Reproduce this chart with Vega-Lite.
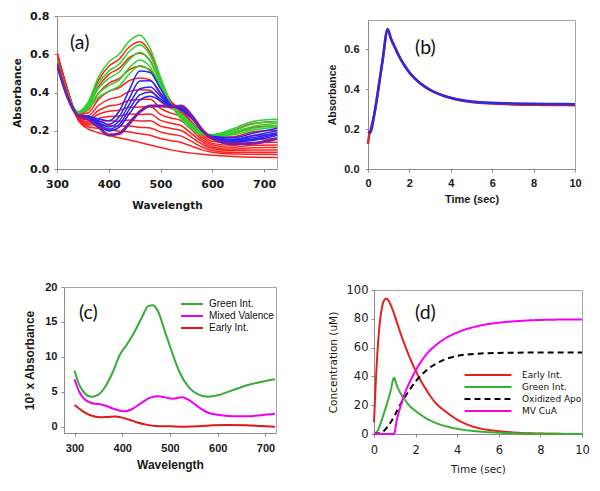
{
"$schema": "https://vega.github.io/schema/vega-lite/v6.json",
"background": "white",
"padding": {"left": 12, "top": 9, "right": 5, "bottom": 5},
"config": {
  "view": {"stroke": "#a6a6a6", "strokeWidth": 1},
  "axis": {"grid": false, "domainColor": "#8c8c8c", "tickColor": "#8c8c8c", "tickSize": 3, "labelColor": "#1a1a1a", "titleColor": "#1a1a1a", "labelFlush": false, "labelOverlap": false},
  "title": {"anchor": "start", "frame": "group", "font": "Lato", "fontSize": 19.5, "fontWeight": "normal", "color": "#111111", "offset": 0, "baseline": "top"}
},
"bounds": "flush",
"spacing": 271,
"resolve": {"scale": {"color": "independent", "strokeDash": "independent"}},
"vconcat": [
 {"bounds": "flush", "spacing": 91,
  "resolve": {"scale": {"color": "independent", "strokeDash": "independent"}},
  "hconcat": [
  {
   "width": 220, "height": 153,
   "title": {"text": "(a)", "dx": 13, "dy": 47},
   "data": {"values": [
{"s":"r1","g":"e","w":300,"a":0.61},{"s":"r1","g":"e","w":320,"a":0.42},{"s":"r1","g":"e","w":340,"a":0.26},{"s":"r1","g":"e","w":360,"a":0.21},{"s":"r1","g":"e","w":380,"a":0.19},{"s":"r1","g":"e","w":400,"a":0.175},{"s":"r1","g":"e","w":420,"a":0.163},{"s":"r1","g":"e","w":440,"a":0.152},{"s":"r1","g":"e","w":460,"a":0.139},{"s":"r1","g":"e","w":480,"a":0.125},{"s":"r1","g":"e","w":500,"a":0.112},{"s":"r1","g":"e","w":520,"a":0.1},{"s":"r1","g":"e","w":540,"a":0.09},{"s":"r1","g":"e","w":560,"a":0.083},{"s":"r1","g":"e","w":580,"a":0.077},{"s":"r1","g":"e","w":600,"a":0.072},{"s":"r1","g":"e","w":640,"a":0.066},{"s":"r1","g":"e","w":680,"a":0.062},{"s":"r1","g":"e","w":725,"a":0.06},
{"s":"r2","g":"e","w":300,"a":0.607},{"s":"r2","g":"e","w":320,"a":0.418},{"s":"r2","g":"e","w":340,"a":0.263},{"s":"r2","g":"e","w":360,"a":0.221},{"s":"r2","g":"e","w":380,"a":0.213},{"s":"r2","g":"e","w":400,"a":0.206},{"s":"r2","g":"e","w":420,"a":0.198},{"s":"r2","g":"e","w":440,"a":0.193},{"s":"r2","g":"e","w":460,"a":0.184},{"s":"r2","g":"e","w":480,"a":0.177},{"s":"r2","g":"e","w":500,"a":0.159},{"s":"r2","g":"e","w":520,"a":0.148},{"s":"r2","g":"e","w":540,"a":0.139},{"s":"r2","g":"e","w":560,"a":0.119},{"s":"r2","g":"e","w":580,"a":0.1},{"s":"r2","g":"e","w":600,"a":0.087},{"s":"r2","g":"e","w":640,"a":0.078},{"s":"r2","g":"e","w":680,"a":0.077},{"s":"r2","g":"e","w":725,"a":0.076},
{"s":"r3","g":"e","w":300,"a":0.604},{"s":"r3","g":"e","w":320,"a":0.417},{"s":"r3","g":"e","w":340,"a":0.266},{"s":"r3","g":"e","w":360,"a":0.23},{"s":"r3","g":"e","w":380,"a":0.231},{"s":"r3","g":"e","w":400,"a":0.229},{"s":"r3","g":"e","w":420,"a":0.224},{"s":"r3","g":"e","w":440,"a":0.225},{"s":"r3","g":"e","w":460,"a":0.218},{"s":"r3","g":"e","w":480,"a":0.215},{"s":"r3","g":"e","w":500,"a":0.193},{"s":"r3","g":"e","w":520,"a":0.182},{"s":"r3","g":"e","w":540,"a":0.172},{"s":"r3","g":"e","w":560,"a":0.144},{"s":"r3","g":"e","w":580,"a":0.115},{"s":"r3","g":"e","w":600,"a":0.097},{"s":"r3","g":"e","w":640,"a":0.086},{"s":"r3","g":"e","w":680,"a":0.088},{"s":"r3","g":"e","w":725,"a":0.088},
{"s":"r4","g":"e","w":300,"a":0.602},{"s":"r4","g":"e","w":320,"a":0.416},{"s":"r4","g":"e","w":340,"a":0.268},{"s":"r4","g":"e","w":360,"a":0.238},{"s":"r4","g":"e","w":380,"a":0.248},{"s":"r4","g":"e","w":400,"a":0.252},{"s":"r4","g":"e","w":420,"a":0.25},{"s":"r4","g":"e","w":440,"a":0.256},{"s":"r4","g":"e","w":460,"a":0.251},{"s":"r4","g":"e","w":480,"a":0.252},{"s":"r4","g":"e","w":500,"a":0.224},{"s":"r4","g":"e","w":520,"a":0.212},{"s":"r4","g":"e","w":540,"a":0.201},{"s":"r4","g":"e","w":560,"a":0.166},{"s":"r4","g":"e","w":580,"a":0.13},{"s":"r4","g":"e","w":600,"a":0.107},{"s":"r4","g":"e","w":640,"a":0.095},{"s":"r4","g":"e","w":680,"a":0.1},{"s":"r4","g":"e","w":725,"a":0.1},
{"s":"r5","g":"e","w":300,"a":0.6},{"s":"r5","g":"e","w":320,"a":0.415},{"s":"r5","g":"e","w":340,"a":0.27},{"s":"r5","g":"e","w":360,"a":0.246},{"s":"r5","g":"e","w":380,"a":0.265},{"s":"r5","g":"e","w":400,"a":0.275},{"s":"r5","g":"e","w":420,"a":0.277},{"s":"r5","g":"e","w":440,"a":0.287},{"s":"r5","g":"e","w":460,"a":0.285},{"s":"r5","g":"e","w":480,"a":0.287},{"s":"r5","g":"e","w":500,"a":0.254},{"s":"r5","g":"e","w":520,"a":0.239},{"s":"r5","g":"e","w":540,"a":0.226},{"s":"r5","g":"e","w":560,"a":0.185},{"s":"r5","g":"e","w":580,"a":0.143},{"s":"r5","g":"e","w":600,"a":0.115},{"s":"r5","g":"e","w":640,"a":0.103},{"s":"r5","g":"e","w":680,"a":0.111},{"s":"r5","g":"e","w":725,"a":0.112},
{"s":"r6","g":"e","w":300,"a":0.597},{"s":"r6","g":"e","w":320,"a":0.413},{"s":"r6","g":"e","w":340,"a":0.273},{"s":"r6","g":"e","w":360,"a":0.256},{"s":"r6","g":"e","w":380,"a":0.286},{"s":"r6","g":"e","w":400,"a":0.302},{"s":"r6","g":"e","w":420,"a":0.307},{"s":"r6","g":"e","w":440,"a":0.323},{"s":"r6","g":"e","w":460,"a":0.324},{"s":"r6","g":"e","w":480,"a":0.327},{"s":"r6","g":"e","w":500,"a":0.286},{"s":"r6","g":"e","w":520,"a":0.267},{"s":"r6","g":"e","w":540,"a":0.252},{"s":"r6","g":"e","w":560,"a":0.205},{"s":"r6","g":"e","w":580,"a":0.155},{"s":"r6","g":"e","w":600,"a":0.126},{"s":"r6","g":"e","w":640,"a":0.114},{"s":"r6","g":"e","w":680,"a":0.124},{"s":"r6","g":"e","w":725,"a":0.126},
{"s":"r7","g":"e","w":300,"a":0.594},{"s":"r7","g":"e","w":320,"a":0.412},{"s":"r7","g":"e","w":340,"a":0.276},{"s":"r7","g":"e","w":360,"a":0.266},{"s":"r7","g":"e","w":380,"a":0.306},{"s":"r7","g":"e","w":400,"a":0.329},{"s":"r7","g":"e","w":420,"a":0.338},{"s":"r7","g":"e","w":440,"a":0.359},{"s":"r7","g":"e","w":460,"a":0.363},{"s":"r7","g":"e","w":480,"a":0.365},{"s":"r7","g":"e","w":500,"a":0.317},{"s":"r7","g":"e","w":520,"a":0.292},{"s":"r7","g":"e","w":540,"a":0.273},{"s":"r7","g":"e","w":560,"a":0.22},{"s":"r7","g":"e","w":580,"a":0.166},{"s":"r7","g":"e","w":600,"a":0.134},{"s":"r7","g":"e","w":640,"a":0.124},{"s":"r7","g":"e","w":680,"a":0.137},{"s":"r7","g":"e","w":725,"a":0.14},
{"s":"r8","g":"e","w":300,"a":0.59},{"s":"r8","g":"e","w":320,"a":0.41},{"s":"r8","g":"e","w":340,"a":0.28},{"s":"r8","g":"e","w":360,"a":0.279},{"s":"r8","g":"e","w":380,"a":0.332},{"s":"r8","g":"e","w":400,"a":0.364},{"s":"r8","g":"e","w":420,"a":0.377},{"s":"r8","g":"e","w":440,"a":0.406},{"s":"r8","g":"e","w":460,"a":0.414},{"s":"r8","g":"e","w":480,"a":0.412},{"s":"r8","g":"e","w":500,"a":0.352},{"s":"r8","g":"e","w":520,"a":0.318},{"s":"r8","g":"e","w":540,"a":0.293},{"s":"r8","g":"e","w":560,"a":0.235},{"s":"r8","g":"e","w":580,"a":0.177},{"s":"r8","g":"e","w":600,"a":0.145},{"s":"r8","g":"e","w":640,"a":0.137},{"s":"r8","g":"e","w":680,"a":0.154},{"s":"r8","g":"e","w":725,"a":0.158},
{"s":"r9","g":"e","w":300,"a":0.586},{"s":"r9","g":"e","w":320,"a":0.408},{"s":"r9","g":"e","w":340,"a":0.284},{"s":"r9","g":"e","w":360,"a":0.294},{"s":"r9","g":"e","w":380,"a":0.364},{"s":"r9","g":"e","w":400,"a":0.406},{"s":"r9","g":"e","w":420,"a":0.425},{"s":"r9","g":"e","w":440,"a":0.463},{"s":"r9","g":"e","w":460,"a":0.476},{"s":"r9","g":"e","w":480,"a":0.466},{"s":"r9","g":"e","w":500,"a":0.391},{"s":"r9","g":"e","w":520,"a":0.34},{"s":"r9","g":"e","w":540,"a":0.307},{"s":"r9","g":"e","w":560,"a":0.245},{"s":"r9","g":"e","w":580,"a":0.187},{"s":"r9","g":"e","w":600,"a":0.156},{"s":"r9","g":"e","w":640,"a":0.152},{"s":"r9","g":"e","w":680,"a":0.175},{"s":"r9","g":"e","w":725,"a":0.18},
{"s":"r10","g":"e","w":300,"a":0.582},{"s":"r10","g":"e","w":320,"a":0.406},{"s":"r10","g":"e","w":340,"a":0.288},{"s":"r10","g":"e","w":360,"a":0.309},{"s":"r10","g":"e","w":380,"a":0.396},{"s":"r10","g":"e","w":400,"a":0.448},{"s":"r10","g":"e","w":420,"a":0.473},{"s":"r10","g":"e","w":440,"a":0.52},{"s":"r10","g":"e","w":460,"a":0.537},{"s":"r10","g":"e","w":480,"a":0.517},{"s":"r10","g":"e","w":500,"a":0.422},{"s":"r10","g":"e","w":520,"a":0.352},{"s":"r10","g":"e","w":540,"a":0.309},{"s":"r10","g":"e","w":560,"a":0.247},{"s":"r10","g":"e","w":580,"a":0.191},{"s":"r10","g":"e","w":600,"a":0.165},{"s":"r10","g":"e","w":640,"a":0.168},{"s":"r10","g":"e","w":680,"a":0.195},{"s":"r10","g":"e","w":725,"a":0.202},
{"s":"r11","g":"e","w":300,"a":0.577},{"s":"r11","g":"e","w":320,"a":0.403},{"s":"r11","g":"e","w":340,"a":0.293},{"s":"r11","g":"e","w":360,"a":0.326},{"s":"r11","g":"e","w":380,"a":0.431},{"s":"r11","g":"e","w":400,"a":0.495},{"s":"r11","g":"e","w":420,"a":0.526},{"s":"r11","g":"e","w":440,"a":0.582},{"s":"r11","g":"e","w":460,"a":0.605},{"s":"r11","g":"e","w":480,"a":0.566},{"s":"r11","g":"e","w":500,"a":0.451},{"s":"r11","g":"e","w":520,"a":0.355},{"s":"r11","g":"e","w":540,"a":0.298},{"s":"r11","g":"e","w":560,"a":0.238},{"s":"r11","g":"e","w":580,"a":0.19},{"s":"r11","g":"e","w":600,"a":0.173},{"s":"r11","g":"e","w":640,"a":0.186},{"s":"r11","g":"e","w":680,"a":0.218},{"s":"r11","g":"e","w":725,"a":0.226},
{"s":"r12","g":"e","w":300,"a":0.572},{"s":"r12","g":"e","w":320,"a":0.401},{"s":"r12","g":"e","w":340,"a":0.298},{"s":"r12","g":"e","w":360,"a":0.342},{"s":"r12","g":"e","w":380,"a":0.463},{"s":"r12","g":"e","w":400,"a":0.537},{"s":"r12","g":"e","w":420,"a":0.574},{"s":"r12","g":"e","w":440,"a":0.639},{"s":"r12","g":"e","w":460,"a":0.666},{"s":"r12","g":"e","w":480,"a":0.609},{"s":"r12","g":"e","w":500,"a":0.472},{"s":"r12","g":"e","w":520,"a":0.349},{"s":"r12","g":"e","w":540,"a":0.277},{"s":"r12","g":"e","w":560,"a":0.222},{"s":"r12","g":"e","w":580,"a":0.185},{"s":"r12","g":"e","w":600,"a":0.179},{"s":"r12","g":"e","w":640,"a":0.201},{"s":"r12","g":"e","w":680,"a":0.239},{"s":"r12","g":"e","w":725,"a":0.248},
{"s":"g1","g":"g","w":300,"a":0.57},{"s":"g1","g":"g","w":320,"a":0.4},{"s":"g1","g":"g","w":340,"a":0.3},{"s":"g1","g":"g","w":360,"a":0.35},{"s":"g1","g":"g","w":380,"a":0.48},{"s":"g1","g":"g","w":400,"a":0.56},{"s":"g1","g":"g","w":420,"a":0.6},{"s":"g1","g":"g","w":440,"a":0.67},{"s":"g1","g":"g","w":460,"a":0.7},{"s":"g1","g":"g","w":480,"a":0.63},{"s":"g1","g":"g","w":500,"a":0.48},{"s":"g1","g":"g","w":520,"a":0.34},{"s":"g1","g":"g","w":540,"a":0.26},{"s":"g1","g":"g","w":560,"a":0.21},{"s":"g1","g":"g","w":580,"a":0.18},{"s":"g1","g":"g","w":600,"a":0.18},{"s":"g1","g":"g","w":640,"a":0.21},{"s":"g1","g":"g","w":680,"a":0.25},{"s":"g1","g":"g","w":725,"a":0.26},
{"s":"g2","g":"g","w":300,"a":0.568},{"s":"g2","g":"g","w":320,"a":0.398},{"s":"g2","g":"g","w":340,"a":0.298},{"s":"g2","g":"g","w":360,"a":0.339},{"s":"g2","g":"g","w":380,"a":0.448},{"s":"g2","g":"g","w":400,"a":0.512},{"s":"g2","g":"g","w":420,"a":0.548},{"s":"g2","g":"g","w":440,"a":0.616},{"s":"g2","g":"g","w":460,"a":0.65},{"s":"g2","g":"g","w":480,"a":0.593},{"s":"g2","g":"g","w":500,"a":0.461},{"s":"g2","g":"g","w":520,"a":0.338},{"s":"g2","g":"g","w":540,"a":0.269},{"s":"g2","g":"g","w":560,"a":0.219},{"s":"g2","g":"g","w":580,"a":0.183},{"s":"g2","g":"g","w":600,"a":0.178},{"s":"g2","g":"g","w":640,"a":0.2},{"s":"g2","g":"g","w":680,"a":0.236},{"s":"g2","g":"g","w":725,"a":0.248},
{"s":"g3","g":"g","w":300,"a":0.566},{"s":"g3","g":"g","w":320,"a":0.396},{"s":"g3","g":"g","w":340,"a":0.296},{"s":"g3","g":"g","w":360,"a":0.33},{"s":"g3","g":"g","w":380,"a":0.422},{"s":"g3","g":"g","w":400,"a":0.474},{"s":"g3","g":"g","w":420,"a":0.507},{"s":"g3","g":"g","w":440,"a":0.573},{"s":"g3","g":"g","w":460,"a":0.61},{"s":"g3","g":"g","w":480,"a":0.563},{"s":"g3","g":"g","w":500,"a":0.446},{"s":"g3","g":"g","w":520,"a":0.337},{"s":"g3","g":"g","w":540,"a":0.276},{"s":"g3","g":"g","w":560,"a":0.226},{"s":"g3","g":"g","w":580,"a":0.186},{"s":"g3","g":"g","w":600,"a":0.176},{"s":"g3","g":"g","w":640,"a":0.192},{"s":"g3","g":"g","w":680,"a":0.224},{"s":"g3","g":"g","w":725,"a":0.238},
{"s":"g4","g":"g","w":300,"a":0.564},{"s":"g4","g":"g","w":320,"a":0.394},{"s":"g4","g":"g","w":340,"a":0.294},{"s":"g4","g":"g","w":360,"a":0.321},{"s":"g4","g":"g","w":380,"a":0.396},{"s":"g4","g":"g","w":400,"a":0.436},{"s":"g4","g":"g","w":420,"a":0.465},{"s":"g4","g":"g","w":440,"a":0.53},{"s":"g4","g":"g","w":460,"a":0.57},{"s":"g4","g":"g","w":480,"a":0.533},{"s":"g4","g":"g","w":500,"a":0.431},{"s":"g4","g":"g","w":520,"a":0.335},{"s":"g4","g":"g","w":540,"a":0.283},{"s":"g4","g":"g","w":560,"a":0.233},{"s":"g4","g":"g","w":580,"a":0.188},{"s":"g4","g":"g","w":600,"a":0.174},{"s":"g4","g":"g","w":640,"a":0.185},{"s":"g4","g":"g","w":680,"a":0.213},{"s":"g4","g":"g","w":725,"a":0.228},
{"s":"g5","g":"g","w":300,"a":0.562},{"s":"g5","g":"g","w":320,"a":0.392},{"s":"g5","g":"g","w":340,"a":0.292},{"s":"g5","g":"g","w":360,"a":0.314},{"s":"g5","g":"g","w":380,"a":0.376},{"s":"g5","g":"g","w":400,"a":0.407},{"s":"g5","g":"g","w":420,"a":0.434},{"s":"g5","g":"g","w":440,"a":0.498},{"s":"g5","g":"g","w":460,"a":0.54},{"s":"g5","g":"g","w":480,"a":0.51},{"s":"g5","g":"g","w":500,"a":0.42},{"s":"g5","g":"g","w":520,"a":0.334},{"s":"g5","g":"g","w":540,"a":0.288},{"s":"g5","g":"g","w":560,"a":0.238},{"s":"g5","g":"g","w":580,"a":0.19},{"s":"g5","g":"g","w":600,"a":0.172},{"s":"g5","g":"g","w":640,"a":0.179},{"s":"g5","g":"g","w":680,"a":0.204},{"s":"g5","g":"g","w":725,"a":0.22},
{"s":"b1","g":"d","w":300,"a":0.55},{"s":"b1","g":"d","w":320,"a":0.38},{"s":"b1","g":"d","w":340,"a":0.28},{"s":"b1","g":"d","w":360,"a":0.276},{"s":"b1","g":"d","w":380,"a":0.262},{"s":"b1","g":"d","w":400,"a":0.252},{"s":"b1","g":"d","w":420,"a":0.302},{"s":"b1","g":"d","w":440,"a":0.415},{"s":"b1","g":"d","w":460,"a":0.512},{"s":"b1","g":"d","w":480,"a":0.505},{"s":"b1","g":"d","w":500,"a":0.42},{"s":"b1","g":"d","w":520,"a":0.336},{"s":"b1","g":"d","w":540,"a":0.309},{"s":"b1","g":"d","w":560,"a":0.264},{"s":"b1","g":"d","w":580,"a":0.2},{"s":"b1","g":"d","w":600,"a":0.171},{"s":"b1","g":"d","w":640,"a":0.164},{"s":"b1","g":"d","w":680,"a":0.188},{"s":"b1","g":"d","w":725,"a":0.213},
{"s":"b2","g":"d","w":300,"a":0.55},{"s":"b2","g":"d","w":320,"a":0.38},{"s":"b2","g":"d","w":340,"a":0.28},{"s":"b2","g":"d","w":360,"a":0.272},{"s":"b2","g":"d","w":380,"a":0.252},{"s":"b2","g":"d","w":400,"a":0.234},{"s":"b2","g":"d","w":420,"a":0.273},{"s":"b2","g":"d","w":440,"a":0.372},{"s":"b2","g":"d","w":460,"a":0.46},{"s":"b2","g":"d","w":480,"a":0.462},{"s":"b2","g":"d","w":500,"a":0.398},{"s":"b2","g":"d","w":520,"a":0.333},{"s":"b2","g":"d","w":540,"a":0.314},{"s":"b2","g":"d","w":560,"a":0.268},{"s":"b2","g":"d","w":580,"a":0.201},{"s":"b2","g":"d","w":600,"a":0.168},{"s":"b2","g":"d","w":640,"a":0.156},{"s":"b2","g":"d","w":680,"a":0.175},{"s":"b2","g":"d","w":725,"a":0.2},
{"s":"b3","g":"d","w":300,"a":0.55},{"s":"b3","g":"d","w":320,"a":0.38},{"s":"b3","g":"d","w":340,"a":0.28},{"s":"b3","g":"d","w":360,"a":0.269},{"s":"b3","g":"d","w":380,"a":0.244},{"s":"b3","g":"d","w":400,"a":0.22},{"s":"b3","g":"d","w":420,"a":0.251},{"s":"b3","g":"d","w":440,"a":0.339},{"s":"b3","g":"d","w":460,"a":0.42},{"s":"b3","g":"d","w":480,"a":0.429},{"s":"b3","g":"d","w":500,"a":0.381},{"s":"b3","g":"d","w":520,"a":0.331},{"s":"b3","g":"d","w":540,"a":0.318},{"s":"b3","g":"d","w":560,"a":0.271},{"s":"b3","g":"d","w":580,"a":0.202},{"s":"b3","g":"d","w":600,"a":0.166},{"s":"b3","g":"d","w":640,"a":0.15},{"s":"b3","g":"d","w":680,"a":0.165},{"s":"b3","g":"d","w":725,"a":0.19},
{"s":"b4","g":"d","w":300,"a":0.55},{"s":"b4","g":"d","w":320,"a":0.38},{"s":"b4","g":"d","w":340,"a":0.28},{"s":"b4","g":"d","w":360,"a":0.267},{"s":"b4","g":"d","w":380,"a":0.238},{"s":"b4","g":"d","w":400,"a":0.209},{"s":"b4","g":"d","w":420,"a":0.233},{"s":"b4","g":"d","w":440,"a":0.313},{"s":"b4","g":"d","w":460,"a":0.388},{"s":"b4","g":"d","w":480,"a":0.403},{"s":"b4","g":"d","w":500,"a":0.367},{"s":"b4","g":"d","w":520,"a":0.329},{"s":"b4","g":"d","w":540,"a":0.321},{"s":"b4","g":"d","w":560,"a":0.273},{"s":"b4","g":"d","w":580,"a":0.203},{"s":"b4","g":"d","w":600,"a":0.164},{"s":"b4","g":"d","w":640,"a":0.145},{"s":"b4","g":"d","w":680,"a":0.157},{"s":"b4","g":"d","w":725,"a":0.182},
{"s":"b5","g":"d","w":300,"a":0.55},{"s":"b5","g":"d","w":320,"a":0.38},{"s":"b5","g":"d","w":340,"a":0.28},{"s":"b5","g":"d","w":360,"a":0.265},{"s":"b5","g":"d","w":380,"a":0.232},{"s":"b5","g":"d","w":400,"a":0.199},{"s":"b5","g":"d","w":420,"a":0.218},{"s":"b5","g":"d","w":440,"a":0.29},{"s":"b5","g":"d","w":460,"a":0.36},{"s":"b5","g":"d","w":480,"a":0.38},{"s":"b5","g":"d","w":500,"a":0.356},{"s":"b5","g":"d","w":520,"a":0.328},{"s":"b5","g":"d","w":540,"a":0.324},{"s":"b5","g":"d","w":560,"a":0.276},{"s":"b5","g":"d","w":580,"a":0.204},{"s":"b5","g":"d","w":600,"a":0.163},{"s":"b5","g":"d","w":640,"a":0.141},{"s":"b5","g":"d","w":680,"a":0.15},{"s":"b5","g":"d","w":725,"a":0.175},
{"s":"p","g":"f","w":300,"a":0.55},{"s":"p","g":"f","w":320,"a":0.38},{"s":"p","g":"f","w":340,"a":0.28},{"s":"p","g":"f","w":360,"a":0.26},{"s":"p","g":"f","w":380,"a":0.22},{"s":"p","g":"f","w":400,"a":0.178},{"s":"p","g":"f","w":420,"a":0.185},{"s":"p","g":"f","w":440,"a":0.24},{"s":"p","g":"f","w":460,"a":0.3},{"s":"p","g":"f","w":480,"a":0.33},{"s":"p","g":"f","w":500,"a":0.33},{"s":"p","g":"f","w":520,"a":0.325},{"s":"p","g":"f","w":540,"a":0.33},{"s":"p","g":"f","w":560,"a":0.28},{"s":"p","g":"f","w":580,"a":0.205},{"s":"p","g":"f","w":600,"a":0.16},{"s":"p","g":"f","w":640,"a":0.132},{"s":"p","g":"f","w":680,"a":0.135},{"s":"p","g":"f","w":725,"a":0.16}
   ]},
   "encoding": {
     "x": {"field": "w", "type": "quantitative", "scale": {"domain": [300, 725], "nice": false},
           "axis": {"values": [300, 400, 500, 600, 700], "title": "Wavelength", "labelFont": "DejaVu Sans", "labelFontWeight": "bold", "labelFontSize": 11, "titleFont": "DejaVu Sans", "titleFontWeight": "bold", "titleFontSize": 10.5, "labelPadding": 6, "titlePadding": 11}},
     "y": {"field": "a", "type": "quantitative", "scale": {"domain": [0, 0.8], "nice": false},
           "axis": {"values": [0, 0.2, 0.4, 0.6, 0.8], "format": ".1f", "title": "Absorbance", "labelFont": "DejaVu Sans", "labelFontWeight": "bold", "labelFontSize": 11, "titleFont": "DejaVu Sans", "titleFontWeight": "bold", "titleFontSize": 10.5, "labelPadding": 5, "titlePadding": 7}},
     "detail": {"field": "s"}
   },
   "layer": [
     {"transform": [{"filter": "datum.g == 'e'"}], "mark": {"type": "line", "color": "#ff1f1f", "strokeWidth": 1.5, "interpolate": "monotone", "clip": true}},
     {"transform": [{"filter": "datum.g == 'g'"}], "mark": {"type": "line", "color": "#2fd22f", "strokeWidth": 1.5, "interpolate": "monotone", "clip": true}},
     {"transform": [{"filter": "datum.g == 'd'"}], "mark": {"type": "line", "color": "#2424ff", "strokeWidth": 1.5, "interpolate": "monotone", "clip": true}},
     {"transform": [{"filter": "datum.g == 'f'"}], "mark": {"type": "line", "color": "#7b1fa0", "strokeWidth": 3, "interpolate": "monotone", "clip": true}}
   ]
  },
  {"bounds": "flush", "spacing": 3, "vconcat": [
   {"width": 1, "height": 1, "view": {"stroke": null}, "data": {"values": [{"k": 0}]}, "mark": {"type": "point", "opacity": 0}, "encoding": {}},
   {
   "width": 207, "height": 149,
   "title": {"text": "(b)", "dx": 47, "dy": 42},
   "data": {"values": [
{"sb":"r","t":0,"a":0.125},{"sb":"r","t":0.05,"a":0.165},{"sb":"r","t":0.12,"a":0.195},{"sb":"r","t":0.3,"a":0.272},{"sb":"r","t":0.5,"a":0.4},{"sb":"r","t":0.7,"a":0.54},{"sb":"r","t":0.95,"a":0.695},{"sb":"r","t":1.1,"a":0.652},{"sb":"r","t":1.25,"a":0.618},{"sb":"r","t":1.5,"a":0.563},{"sb":"r","t":1.75,"a":0.519},{"sb":"r","t":2,"a":0.482},{"sb":"r","t":2.5,"a":0.431},{"sb":"r","t":3,"a":0.396},{"sb":"r","t":3.5,"a":0.372},{"sb":"r","t":4,"a":0.355},{"sb":"r","t":4.5,"a":0.343},{"sb":"r","t":5,"a":0.335},{"sb":"r","t":6,"a":0.327},{"sb":"r","t":7,"a":0.323},{"sb":"r","t":8,"a":0.321},{"sb":"r","t":9,"a":0.32},{"sb":"r","t":10,"a":0.319},
{"sb":"b","t":0,"a":0.186},{"sb":"b","t":0.12,"a":0.182},{"sb":"b","t":0.3,"a":0.27},{"sb":"b","t":0.5,"a":0.4},{"sb":"b","t":0.7,"a":0.54},{"sb":"b","t":0.95,"a":0.7},{"sb":"b","t":1.1,"a":0.655},{"sb":"b","t":1.25,"a":0.62},{"sb":"b","t":1.5,"a":0.565},{"sb":"b","t":1.75,"a":0.52},{"sb":"b","t":2,"a":0.483},{"sb":"b","t":2.5,"a":0.43},{"sb":"b","t":3,"a":0.395},{"sb":"b","t":3.5,"a":0.372},{"sb":"b","t":4,"a":0.356},{"sb":"b","t":4.5,"a":0.345},{"sb":"b","t":5,"a":0.338},{"sb":"b","t":6,"a":0.331},{"sb":"b","t":7,"a":0.328},{"sb":"b","t":8,"a":0.326},{"sb":"b","t":9,"a":0.325},{"sb":"b","t":10,"a":0.324}
   ]},
   "encoding": {
     "x": {"field": "t", "type": "quantitative", "scale": {"domain": [0, 10], "nice": false},
           "axis": {"values": [0, 2, 4, 6, 8, 10], "title": "Time (sec)", "labelFont": "Liberation Sans", "labelFontWeight": "bold", "labelFontSize": 11, "titleFont": "Liberation Sans", "titleFontWeight": "bold", "titleFontSize": 11, "labelPadding": 5, "titlePadding": 5}},
     "y": {"field": "a", "type": "quantitative", "scale": {"domain": [0, 0.745], "nice": false},
           "axis": {"values": [0, 0.2, 0.4, 0.6], "format": ".1f", "title": "Absorbance", "labelFont": "Liberation Sans", "labelFontWeight": "bold", "labelFontSize": 11, "titleFont": "Liberation Sans", "titleFontWeight": "bold", "titleFontSize": 10.5, "labelPadding": 6, "titlePadding": 6}}
   },
   "layer": [
     {"transform": [{"filter": "datum.sb == 'r'"}], "mark": {"type": "line", "color": "#e4202a", "strokeWidth": 2.5, "interpolate": "monotone"}},
     {"transform": [{"filter": "datum.sb == 'b'"}], "mark": {"type": "line", "color": "#2a2ae0", "strokeWidth": 2.5, "interpolate": "monotone"}}
   ]
   }
  ]}
 ]},
 {"bounds": "flush", "spacing": 6,
  "resolve": {"scale": {"color": "independent", "strokeDash": "independent"}},
  "hconcat": [
  {"width": 1, "height": 1, "view": {"stroke": null}, "data": {"values": [{"k": 0}]}, "mark": {"type": "point", "opacity": 0}, "encoding": {}},
  {"bounds": "flush", "spacing": 98,
   "resolve": {"scale": {"color": "independent", "strokeDash": "independent"}},
   "hconcat": [
   {
   "width": 212, "height": 146,
   "title": {"text": "(c)", "dx": 15, "dy": 46},
   "data": {"values": [
{"sc":"Green Int.","w":300,"v":8.0},{"sc":"Green Int.","w":310,"v":6.0},{"sc":"Green Int.","w":320,"v":4.9},{"sc":"Green Int.","w":335,"v":4.3},{"sc":"Green Int.","w":350,"v":4.6},{"sc":"Green Int.","w":365,"v":5.8},{"sc":"Green Int.","w":380,"v":7.8},{"sc":"Green Int.","w":395,"v":10.3},{"sc":"Green Int.","w":410,"v":11.8},{"sc":"Green Int.","w":425,"v":13.5},{"sc":"Green Int.","w":440,"v":15.5},{"sc":"Green Int.","w":455,"v":17.3},{"sc":"Green Int.","w":465,"v":17.4},{"sc":"Green Int.","w":475,"v":16.5},{"sc":"Green Int.","w":490,"v":13.5},{"sc":"Green Int.","w":505,"v":10.5},{"sc":"Green Int.","w":520,"v":7.8},{"sc":"Green Int.","w":540,"v":5.6},{"sc":"Green Int.","w":560,"v":4.6},{"sc":"Green Int.","w":580,"v":4.3},{"sc":"Green Int.","w":600,"v":4.5},{"sc":"Green Int.","w":630,"v":5.2},{"sc":"Green Int.","w":660,"v":5.9},{"sc":"Green Int.","w":690,"v":6.4},{"sc":"Green Int.","w":720,"v":6.8},
{"sc":"Mixed Valence","w":300,"v":6.8},{"sc":"Mixed Valence","w":310,"v":5.0},{"sc":"Mixed Valence","w":320,"v":4.0},{"sc":"Mixed Valence","w":335,"v":3.4},{"sc":"Mixed Valence","w":350,"v":3.25},{"sc":"Mixed Valence","w":365,"v":3.0},{"sc":"Mixed Valence","w":380,"v":2.6},{"sc":"Mixed Valence","w":395,"v":2.3},{"sc":"Mixed Valence","w":405,"v":2.2},{"sc":"Mixed Valence","w":420,"v":2.5},{"sc":"Mixed Valence","w":440,"v":3.4},{"sc":"Mixed Valence","w":460,"v":4.2},{"sc":"Mixed Valence","w":475,"v":4.35},{"sc":"Mixed Valence","w":490,"v":4.2},{"sc":"Mixed Valence","w":505,"v":4.0},{"sc":"Mixed Valence","w":525,"v":4.2},{"sc":"Mixed Valence","w":540,"v":3.8},{"sc":"Mixed Valence","w":560,"v":2.8},{"sc":"Mixed Valence","w":580,"v":2.0},{"sc":"Mixed Valence","w":600,"v":1.7},{"sc":"Mixed Valence","w":630,"v":1.5},{"sc":"Mixed Valence","w":660,"v":1.5},{"sc":"Mixed Valence","w":690,"v":1.65},{"sc":"Mixed Valence","w":720,"v":1.85},
{"sc":"Early Int.","w":300,"v":3.1},{"sc":"Early Int.","w":320,"v":2.1},{"sc":"Early Int.","w":340,"v":1.5},{"sc":"Early Int.","w":355,"v":1.35},{"sc":"Early Int.","w":370,"v":1.4},{"sc":"Early Int.","w":385,"v":1.45},{"sc":"Early Int.","w":400,"v":1.3},{"sc":"Early Int.","w":415,"v":1.0},{"sc":"Early Int.","w":430,"v":0.65},{"sc":"Early Int.","w":450,"v":0.3},{"sc":"Early Int.","w":470,"v":0.1},{"sc":"Early Int.","w":500,"v":0.05},{"sc":"Early Int.","w":530,"v":0.0},{"sc":"Early Int.","w":560,"v":0.05},{"sc":"Early Int.","w":590,"v":0.2},{"sc":"Early Int.","w":620,"v":0.25},{"sc":"Early Int.","w":660,"v":0.2},{"sc":"Early Int.","w":690,"v":0.1},{"sc":"Early Int.","w":720,"v":0.0}
   ]},
   "mark": {"type": "line", "strokeWidth": 2, "interpolate": "monotone"},
   "encoding": {
     "x": {"field": "w", "type": "quantitative", "scale": {"domain": [278, 722], "nice": false},
           "axis": {"values": [300, 400, 500, 600, 700], "title": "Wavelength", "labelFont": "Liberation Sans", "labelFontWeight": "bold", "labelFontSize": 11, "titleFont": "Liberation Sans", "titleFontWeight": "bold", "titleFontSize": 12, "labelPadding": 6, "titlePadding": 6}},
     "y": {"field": "v", "type": "quantitative", "scale": {"domain": [-0.9, 20], "nice": false},
           "axis": {"values": [0, 5, 10, 15, 20], "title": "10³ x Absorbance", "labelFont": "Liberation Sans", "labelFontWeight": "bold", "labelFontSize": 11, "titleFont": "Liberation Sans", "titleFontWeight": "bold", "titleFontSize": 12, "labelPadding": 4, "titlePadding": 8}},
     "color": {"field": "sc", "type": "nominal",
               "scale": {"domain": ["Green Int.", "Mixed Valence", "Early Int."], "range": ["#34ad34", "#f000f0", "#e01818"]},
               "legend": {"orient": "none", "legendX": 122, "legendY": 11, "title": null, "symbolType": "M-2.2,0H2.2", "symbolSize": 100, "symbolStrokeWidth": 2, "labelFont": "Liberation Sans", "labelFontSize": 10, "labelColor": "#111111", "labelOffset": 11, "rowPadding": 1}}
   }
   },
   {"bounds": "flush", "spacing": 2, "vconcat": [
    {"width": 1, "height": 1, "view": {"stroke": null}, "data": {"values": [{"k": 0}]}, "mark": {"type": "point", "opacity": 0}, "encoding": {}},
    {
    "width": 208, "height": 144,
    "title": {"text": "(d)", "dx": 41, "dy": 43},
    "data": {"values": [
{"sd":"Early Int.","t":0,"c":8},{"sd":"Early Int.","t":0.1,"c":40},{"sd":"Early Int.","t":0.2,"c":64},{"sd":"Early Int.","t":0.3,"c":80},{"sd":"Early Int.","t":0.4,"c":89},{"sd":"Early Int.","t":0.5,"c":93},{"sd":"Early Int.","t":0.6,"c":94},{"sd":"Early Int.","t":0.7,"c":92.5},{"sd":"Early Int.","t":0.85,"c":88},{"sd":"Early Int.","t":1.0,"c":82},{"sd":"Early Int.","t":1.25,"c":71},{"sd":"Early Int.","t":1.5,"c":61},{"sd":"Early Int.","t":1.75,"c":52},{"sd":"Early Int.","t":2,"c":44},{"sd":"Early Int.","t":2.5,"c":31},{"sd":"Early Int.","t":3,"c":21},{"sd":"Early Int.","t":3.5,"c":15},{"sd":"Early Int.","t":4,"c":10},{"sd":"Early Int.","t":4.5,"c":6.5},{"sd":"Early Int.","t":5,"c":4.2},{"sd":"Early Int.","t":6,"c":2},{"sd":"Early Int.","t":7,"c":0.8},{"sd":"Early Int.","t":8,"c":0.3},{"sd":"Early Int.","t":10,"c":0},
{"sd":"Green Int.","t":0,"c":0},{"sd":"Green Int.","t":0.2,"c":3},{"sd":"Green Int.","t":0.4,"c":11},{"sd":"Green Int.","t":0.6,"c":20},{"sd":"Green Int.","t":0.8,"c":30},{"sd":"Green Int.","t":0.96,"c":39},{"sd":"Green Int.","t":1.1,"c":33.5},{"sd":"Green Int.","t":1.25,"c":29},{"sd":"Green Int.","t":1.5,"c":23.5},{"sd":"Green Int.","t":1.75,"c":19},{"sd":"Green Int.","t":2,"c":16},{"sd":"Green Int.","t":2.5,"c":11},{"sd":"Green Int.","t":3,"c":7.5},{"sd":"Green Int.","t":3.5,"c":5.2},{"sd":"Green Int.","t":4,"c":3.6},{"sd":"Green Int.","t":5,"c":1.8},{"sd":"Green Int.","t":6,"c":0.9},{"sd":"Green Int.","t":7,"c":0.4},{"sd":"Green Int.","t":8,"c":0.2},{"sd":"Green Int.","t":10,"c":0},
{"sd":"Oxidized Apo","t":0,"c":0},{"sd":"Oxidized Apo","t":0.3,"c":0.5},{"sd":"Oxidized Apo","t":0.5,"c":2.5},{"sd":"Oxidized Apo","t":0.75,"c":7},{"sd":"Oxidized Apo","t":1.0,"c":13},{"sd":"Oxidized Apo","t":1.25,"c":20},{"sd":"Oxidized Apo","t":1.5,"c":26},{"sd":"Oxidized Apo","t":1.75,"c":31.5},{"sd":"Oxidized Apo","t":2,"c":36.5},{"sd":"Oxidized Apo","t":2.5,"c":44},{"sd":"Oxidized Apo","t":3,"c":49},{"sd":"Oxidized Apo","t":3.5,"c":52.3},{"sd":"Oxidized Apo","t":4,"c":54.2},{"sd":"Oxidized Apo","t":5,"c":55.8},{"sd":"Oxidized Apo","t":6,"c":56.3},{"sd":"Oxidized Apo","t":8,"c":56.6},{"sd":"Oxidized Apo","t":10,"c":56.6},
{"sd":"MV CuA","t":0,"c":0},{"sd":"MV CuA","t":0.96,"c":0},{"sd":"MV CuA","t":1.1,"c":10},{"sd":"MV CuA","t":1.25,"c":18},{"sd":"MV CuA","t":1.5,"c":29},{"sd":"MV CuA","t":1.75,"c":37},{"sd":"MV CuA","t":2,"c":44},{"sd":"MV CuA","t":2.5,"c":55},{"sd":"MV CuA","t":3,"c":62},{"sd":"MV CuA","t":3.5,"c":67},{"sd":"MV CuA","t":4,"c":70.5},{"sd":"MV CuA","t":5,"c":75},{"sd":"MV CuA","t":6,"c":77.3},{"sd":"MV CuA","t":7,"c":78.5},{"sd":"MV CuA","t":8,"c":79.2},{"sd":"MV CuA","t":10,"c":79.6}
    ]},
    "mark": {"type": "line", "strokeWidth": 2, "interpolate": "monotone"},
    "encoding": {
      "x": {"field": "t", "type": "quantitative", "scale": {"domain": [0, 10], "nice": false},
            "axis": {"values": [0, 2, 4, 6, 8, 10], "title": "Time (sec)", "labelFont": "DejaVu Sans", "labelFontSize": 11.5, "titleFont": "DejaVu Sans", "titleFontWeight": "normal", "titleFontSize": 10.5, "labelPadding": 7, "titlePadding": 9}},
      "y": {"field": "c", "type": "quantitative", "scale": {"domain": [0, 100], "nice": false},
            "axis": {"values": [0, 20, 40, 60, 80, 100], "title": "Concentration (uM)", "labelFont": "DejaVu Sans", "labelFontSize": 11.5, "titleFont": "DejaVu Sans", "titleFontWeight": "normal", "titleFontSize": 10.5, "labelPadding": 3, "titlePadding": 8}},
      "color": {"field": "sd", "type": "nominal",
                "scale": {"domain": ["Early Int.", "Green Int.", "Oxidized Apo", "MV CuA"], "range": ["#e81e1e", "#34b034", "#000000", "#f500f5"]},
                "legend": {"orient": "none", "legendX": 108, "legendY": 82, "title": null, "symbolType": "M-4.7,0H4.7", "symbolSize": 100, "symbolStrokeWidth": 2, "labelFont": "DejaVu Sans", "labelFontSize": 9, "labelColor": "#111111", "labelOffset": 28, "rowPadding": 1}},
      "strokeDash": {"field": "sd", "type": "nominal",
                "scale": {"domain": ["Early Int.", "Green Int.", "Oxidized Apo", "MV CuA"], "range": [[1, 0], [1, 0], [6, 4], [1, 0]]},
                "legend": {"orient": "none", "legendX": 108, "legendY": 82, "title": null, "symbolType": "M-4.7,0H4.7", "symbolSize": 100, "symbolStrokeWidth": 2, "labelFont": "DejaVu Sans", "labelFontSize": 9, "labelColor": "#111111", "labelOffset": 28, "rowPadding": 1}}
    }
    }
   ]}
  ]}
 ]}
]
}
